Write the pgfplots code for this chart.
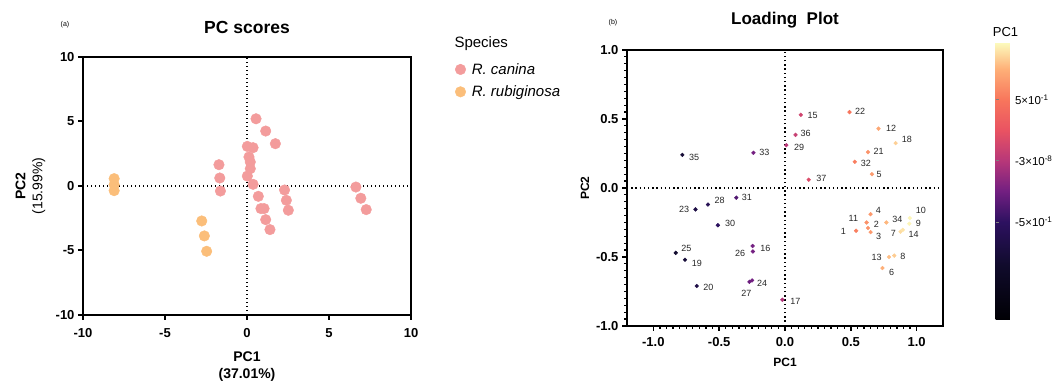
\documentclass[border=0pt]{standalone}
\usepackage{pgfplots}
\pgfplotsset{compat=1.18}
\usepackage{pgfplotstable}
\usepackage{fontspec}
\setmainfont{Liberation Sans}
\definecolor{caninac}{RGB}{243,156,156}
\definecolor{rubigc}{RGB}{251,190,122}

\pgfplotstableread{
x y
0.55 5.21
1.14 4.26
1.73 3.28
0.02 3.07
0.37 2.97
0.12 2.25
0.20 1.86
0.20 1.34
0.02 0.77
0.37 0.13
-1.71 1.65
-1.66 0.62
-1.62 -0.39
0.69 -0.80
0.85 -1.75
1.04 -1.75
1.14 -2.61
1.40 -3.38
2.29 -0.31
2.40 -1.11
2.52 -1.88
6.64 -0.08
6.94 -0.95
7.27 -1.83
}\canina

\pgfplotstableread{
x y
-8.10 0.57
-8.10 0.10
-8.10 -0.36
-2.76 -2.71
-2.60 -3.87
-2.46 -5.06
}\rubig

\pgfplotstableread{
x y lab dx dy
0.54 -0.31 1 -12.7 -1
0.63 -0.29 2 8.3 3.7
0.65 -0.32 3 8 -4.7
0.65 -0.19 4 7.7 4
0.66 0.10 5 7.3 0
0.74 -0.58 6 9.3 -4.3
0.877 -0.317 7 -7 -1.7
0.83 -0.49 8 8.7 -1
0.944 -0.259 9 9 0.5
0.948 -0.218 10 11 7.7
0.62 -0.25 11 -13.3 3.7
0.71 0.43 12 12.7 0.7
0.79 -0.50 13 -12.3 0
0.895 -0.303 14 10.7 -4.3
0.12 0.53 15 11.7 -1
-0.246 -0.42 16 12.7 -2
-0.02 -0.81 17 13 -1.3
0.84 0.325 18 11.3 3.3
-0.76 -0.52 19 12 -3.7
-0.67 -0.71 20 11.7 -1.7
0.63 0.26 21 10.7 1
0.49 0.55 22 10.7 0.7
-0.68 -0.155 23 -11.3 0
-0.25 -0.67 24 10 -2.7
-0.83 -0.47 25 10.7 4.7
-0.244 -0.46 26 -12.7 -2.3
-0.27 -0.68 27 -3 -11.3
-0.585 -0.12 28 11.7 4
0.01 0.31 29 12.7 -2
-0.51 -0.27 30 12.3 2
-0.37 -0.07 31 10.7 0
0.53 0.19 32 11 -2
-0.24 0.255 33 11 0
0.77 -0.25 34 11 3.3
-0.78 0.24 35 11.7 -2.3
0.08 0.385 36 10 1.7
0.18 0.06 37 12.7 1.7
}\loadings

\begin{document}
\begin{tikzpicture}
\useasboundingbox (0,0) rectangle (1062pt,382pt);

% ---------------- Panel (a) ----------------
\begin{axis}[
  at={(83pt,67pt)}, anchor=south west,
  scale only axis, width=328pt, height=258pt,
  xmin=-10, xmax=10, ymin=-10, ymax=10,
  xtick={-10,-5,0,5,10}, ytick={-10,-5,0,5,10},
  xtick pos=bottom, ytick pos=left, tick align=outside,
  major tick length=5pt,
  axis line style={line width=2.2pt},
  tick style={black, line width=2pt},
  /pgf/number format/assume math mode=true,
  ticklabel style={font=\fontsize{13}{15}\selectfont\bfseries},
  xticklabel style={yshift=-5pt},
  xlabel={PC1\\(37.01\%)},
  xlabel style={align=center, font=\fontsize{14}{17}\selectfont\bfseries, at={(axis description cs:0.5,-0.20)}, anchor=center},
  ylabel={\textbf{PC2}\\(15.99\%)},
  ylabel style={align=center, font=\fontsize{14}{17}\selectfont, at={(axis description cs:-0.16,0.5)}, anchor=center, rotate=0},
  title={PC scores},
  title style={font=\fontsize{17.5}{20}\selectfont\bfseries, at={(axis description cs:0.5,1.090)}, anchor=center},
  legend style={draw=none, fill=none, at={(axis description cs:1.125,0.992)}, anchor=north west,
    font=\fontsize{15}{18}\selectfont\itshape, cells={anchor=west}, row sep=6pt,
    /tikz/every odd column/.append style={column sep=4pt}},
]
\draw[line width=1.3pt, dash pattern=on 1.3pt off 2.7pt] (axis cs:0,-10) -- (axis cs:0,10);
\draw[line width=1.3pt, dash pattern=on 1.3pt off 2.7pt] (axis cs:-10,0) -- (axis cs:10,0);
\addplot[only marks, mark=*, mark size=5.3pt, color=caninac] table[x=x,y=y] \canina;
\addlegendentry{R. canina}
\addplot[only marks, mark=*, mark size=5.3pt, color=rubigc] table[x=x,y=y] \rubig;
\addlegendentry{R. rubiginosa}
\end{axis}

\node[anchor=west, font=\fontsize{15}{18}\selectfont] at (451pt,338pt) {Species};
\node[font=\fontsize{7}{8}\selectfont] at (65pt,357pt) {(a)};
\node[font=\fontsize{7}{8}\selectfont] at (613pt,359pt) {(b)};

% ---------------- Panel (b) ----------------
\begin{axis}[
  at={(627pt,56pt)}, anchor=south west,
  scale only axis, width=316pt, height=276pt,
  xmin=-1.2, xmax=1.2, ymin=-1, ymax=1,
  xtick={-1,-0.5,0,0.5,1}, ytick={-1,-0.5,0,0.5,1},
  minor tick num=9,
  xtick pos=bottom, ytick pos=left, tick align=outside,
  major tick length=5pt, minor tick length=3pt,
  axis line style={line width=2pt},
  tick style={black, line width=1.6pt},
  minor tick style={line width=1.2pt},
  /pgf/number format/assume math mode=true,
  ticklabel style={font=\fontsize{13}{15}\selectfont\bfseries,
    /pgf/number format/fixed, /pgf/number format/fixed zerofill, /pgf/number format/precision=1},
  xticklabel style={yshift=-3pt},
  xlabel={PC1},
  xlabel style={font=\fontsize{12}{14}\selectfont\bfseries, at={(axis description cs:0.5,-0.133)}, anchor=center},
  ylabel={PC2},
  ylabel style={font=\fontsize{12}{14}\selectfont\bfseries, at={(axis description cs:-0.133,0.5)}, anchor=center},
  title={Loading~~Plot},
  title style={font=\fontsize{17}{20}\selectfont\bfseries, at={(axis description cs:0.5,1.087)}, anchor=center},
  colormap={gp}{rgb255(0pt)=(0,0,4) rgb255(45pt)=(16,11,44) rgb255(80pt)=(45,17,96) rgb255(105pt)=(114,31,129) rgb255(130pt)=(183,55,121) rgb255(155pt)=(233,83,98) rgb255(180pt)=(248,118,92) rgb255(205pt)=(254,176,120) rgb255(227pt)=(252,253,191)},
  point meta min=-1.3, point meta max=0.97,
  colorbar,
  colorbar style={
    at={(parent axis.north east)}, anchor=north west, xshift=44pt, yshift=8pt,
    scale only axis, width=16pt, height=278pt,
    ytick={-0.5,0,0.5}, minor tick num=0,
    yticklabels={-5×10\textsuperscript{-1},-3×10\textsuperscript{-8},5×10\textsuperscript{-1}},
    ytick pos=left, yticklabel pos=right,
    major tick length=3pt, tick style={gray, line width=0.6pt},
    axis line style={draw=none},
    yticklabel style={font=\fontsize{11.5}{13}\selectfont},
    title={PC1},
    title style={font=\fontsize{13}{15}\selectfont, at={(0.5,1)}, anchor=south, yshift=-4pt, xshift=2pt},
  },
]
\draw[line width=1.3pt, dash pattern=on 1.3pt off 2.9pt] (axis cs:0,-1) -- (axis cs:0,1);
\draw[line width=1.3pt, dash pattern=on 1.3pt off 2.9pt] (axis cs:-1.2,0) -- (axis cs:1.2,0);
\addplot[scatter, only marks, mark=*, mark size=1.9pt, point meta=x,
  scatter/use mapped color={draw=mapped color, fill=mapped color},
] table[x=x,y=y] \loadings;
\addplot[only marks, mark=none, nodes near coords, point meta=explicit symbolic,
  visualization depends on={\thisrow{dx}\as\dx},
  visualization depends on={\thisrow{dy}\as\dy},
  every node near coord/.append style={anchor=center, xshift=\dx, yshift=\dy,
    font=\fontsize{9}{10}\selectfont, text=black!85, inner sep=0pt},
] table[x=x,y=y,meta=lab] \loadings;
\end{axis}
\end{tikzpicture}
\end{document}
